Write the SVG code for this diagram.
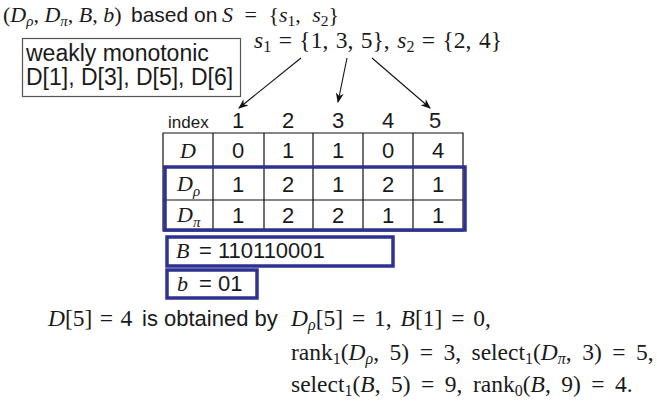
<svg xmlns="http://www.w3.org/2000/svg" width="657" height="410" viewBox="0 0 657 410">
<style>
.m{font-family:"Liberation Serif","Times New Roman",serif;font-size:22px;fill:#1a1a1a}
.L{font-size:23.5px}
.i{font-style:italic}
.sub{font-size:16px}
.s{font-family:"Liberation Sans",Arial,sans-serif;fill:#1a1a1a}
.v{font-family:"Liberation Sans",Arial,sans-serif;font-size:22px;fill:#1a1a1a;text-anchor:middle}
.grid{stroke:#111;stroke-width:1.2;fill:none}
.blue{stroke:#2e3192;stroke-width:3.5;fill:none}
.arr{stroke:#111;stroke-width:1.1;fill:none;marker-end:url(#ah)}
</style>
<defs>
<marker id="ah" viewBox="0 0 10 10" refX="9" refY="5" markerWidth="10" markerHeight="10" markerUnits="userSpaceOnUse" orient="auto">
<path d="M0,1 L10,5 L0,9 L3,5 Z" fill="#111"/>
</marker>
</defs>
<rect width="657" height="410" fill="#fff"/>

<g id="title">
<text class="m" x="3" y="22" font-size="22.5">(<tspan class="i">D</tspan><tspan class="i" font-size="15" dy="3.5">ρ</tspan><tspan dy="-3.5">, </tspan><tspan class="i">D</tspan><tspan class="i" font-size="15" dy="3.5">π</tspan><tspan dy="-3.5">, </tspan><tspan class="i">B</tspan>, <tspan class="i">b</tspan>)</text>
<text class="s" x="131" y="22" font-size="21">based on</text>
<text class="m" x="222" y="22" font-size="24" word-spacing="6"><tspan class="i">S</tspan> = {<tspan class="i">s</tspan><tspan font-size="15.5" dy="3.5">1</tspan><tspan dy="-3.5">, </tspan><tspan class="i">s</tspan><tspan font-size="15.5" dy="3.5">2</tspan><tspan dy="-3.5">}</tspan></text>
</g>

<g id="sets">
<text class="m L" x="254" y="48" word-spacing="1.6"><tspan class="i">s</tspan><tspan class="sub" dy="4">1</tspan><tspan dy="-4"> = {1, 3, 5}, </tspan><tspan class="i">s</tspan><tspan class="sub" dy="4">2</tspan><tspan dy="-4"> = {2, 4}</tspan></text>
</g>

<g id="note">
<rect x="22.5" y="38.5" width="218" height="58" fill="#fff" stroke="#555" stroke-width="1.2"/>
<text class="s" x="26" y="61" font-size="23">weakly monotonic</text>
<text class="s" x="26" y="85" font-size="23">D[1], D[3], D[5], D[6]</text>
</g>

<g id="connectors">
<line class="arr" x1="301" y1="58" x2="239" y2="108"/>
<line class="arr" x1="347" y1="58" x2="338" y2="102"/>
<line class="arr" x1="372" y1="58" x2="430" y2="108"/>
</g>

<g id="table">
<text class="s" x="168" y="128" font-size="17">index</text>
<text class="v" x="238" y="128">1</text>
<text class="v" x="288" y="128">2</text>
<text class="v" x="338" y="128">3</text>
<text class="v" x="388" y="128">4</text>
<text class="v" x="435" y="128">5</text>
<path class="grid" d="M163,133H463V231H163Z M163,167H463 M163,200H463 M213,133V231 M264,133V231 M313,133V231 M363,133V231 M413,133V231"/>
<text class="m i" x="188" y="158" text-anchor="middle">D</text>
<text class="m" x="177" y="191"><tspan class="i">D</tspan><tspan class="i" font-size="15" dy="5">ρ</tspan></text>
<text class="m" x="177" y="222"><tspan class="i">D</tspan><tspan class="i" font-size="15" dy="5">π</tspan></text>
<text class="v" x="238" y="158">0</text><text class="v" x="288" y="158">1</text><text class="v" x="338" y="158">1</text><text class="v" x="388" y="158">0</text><text class="v" x="438" y="158">4</text>
<text class="v" x="238" y="192">1</text><text class="v" x="288" y="192">2</text><text class="v" x="338" y="192">1</text><text class="v" x="388" y="192">2</text><text class="v" x="438" y="192">1</text>
<text class="v" x="238" y="223">1</text><text class="v" x="288" y="223">2</text><text class="v" x="338" y="223">2</text><text class="v" x="388" y="223">1</text><text class="v" x="438" y="223">1</text>
<rect class="blue" x="165" y="167" width="300" height="63"/>
</g>

<g id="B">
<rect class="blue" x="167" y="237" width="226" height="29" stroke-width="3"/>
<text class="m i" x="176" y="258">B</text>
<text class="s" x="199" y="258" font-size="22">= 110110001</text>
</g>

<g id="b">
<rect class="blue" x="167" y="270" width="90" height="28" stroke-width="3"/>
<text class="m i" x="177" y="291">b</text>
<text class="s" x="199" y="291" font-size="22">= 01</text>
</g>

<g id="explanation">
<text class="m L" x="48" y="326" word-spacing="1.5"><tspan class="i">D</tspan>[5] = 4</text>
<text class="s" x="142" y="326" font-size="22">is obtained by</text>
<text class="m L" x="291" y="326" word-spacing="3"><tspan class="i">D</tspan><tspan class="i sub" dy="4">ρ</tspan><tspan dy="-4">[5] = 1, </tspan><tspan class="i">B</tspan>[1] = 0,</text>
<text class="m L" x="291" y="360" word-spacing="4.6">rank<tspan class="sub" dy="4">1</tspan><tspan dy="-4">(</tspan><tspan class="i">D</tspan><tspan class="i sub" dy="4">ρ</tspan><tspan dy="-4">, 5) = 3, select</tspan><tspan class="sub" dy="4">1</tspan><tspan dy="-4">(</tspan><tspan class="i">D</tspan><tspan class="i sub" dy="4">π</tspan><tspan dy="-4">, 3) = 5,</tspan></text>
<text class="m L" x="291" y="392" word-spacing="4.6">select<tspan class="sub" dy="4">1</tspan><tspan dy="-4">(</tspan><tspan class="i">B</tspan>, 5) = 9, rank<tspan class="sub" dy="4">0</tspan><tspan dy="-4">(</tspan><tspan class="i">B</tspan>, 9) = 4.</text>
</g>
</svg>
